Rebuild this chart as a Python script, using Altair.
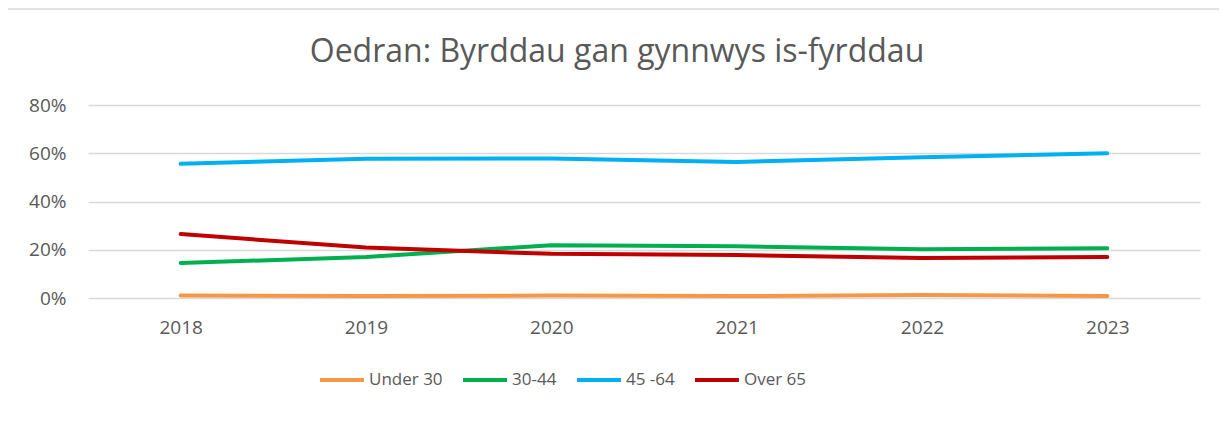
import altair as alt
import pandas as pd

years = ["2018", "2019", "2020", "2021", "2022", "2023"]
series = ["Under 30", "30-44", "45 -64", "Over 65"]
under_30 = [0.010, 0.008, 0.010, 0.008, 0.012, 0.008]
age_30_44 = [0.145, 0.170, 0.219, 0.214, 0.202, 0.206]
age_45_64 = [0.556, 0.577, 0.578, 0.564, 0.583, 0.600]
over_65 = [0.265, 0.209, 0.183, 0.178, 0.166, 0.170]
colors = ["#F79646", "#00B050", "#00B0F0", "#C00000"]

rows = []
for name, vals in zip(series, [under_30, age_30_44, age_45_64, over_65]):
    for y, v in zip(years, vals):
        rows.append({"Year": y, "Series": name, "Value": v})
df = pd.DataFrame(rows)

FONT = "Open Sans"
GRAY = "#595959"
LS = 19

lines = alt.Chart(df).mark_line(strokeWidth=4, strokeCap="round", strokeJoin="round").encode(
    x=alt.X("Year:O", sort=years, scale=alt.Scale(type="point", padding=0.5),
            axis=alt.Axis(title=None, labelAngle=0, ticks=False, domain=False, grid=False,
                          labelPadding=20, labelFontSize=LS, labelColor=GRAY, labelFont=FONT)),
    y=alt.Y("Value:Q", scale=alt.Scale(domain=[0, 0.8]),
            axis=alt.Axis(title=None, format=".0%", values=[0, 0.2, 0.4, 0.6, 0.8], ticks=False,
                          domain=False, gridColor="#D9D9D9", gridWidth=1.5, labelPadding=22,
                          labelFontSize=LS, labelColor=GRAY, labelFont=FONT)),
    color=alt.Color("Series:N", sort=series, scale=alt.Scale(domain=series, range=colors),
                    legend=alt.Legend(title=None, orient="none", legendX=230, legendY=251,
                                      direction="horizontal", symbolType="stroke",
                                      symbolSize=1936, symbolStrokeWidth=4,
                                      labelFontSize=17, labelColor=GRAY, labelFont=FONT,
                                      labelOffset=3, columnPadding=12)),
    detail="Series:N",
)

border = alt.Chart(pd.DataFrame({"a": [0]})).mark_rect(
    fill=None, stroke="#D9D9D9", strokeWidth=1.5
).encode(x=alt.value(-82), x2=alt.value(1135), y=alt.value(-96), y2=alt.value(315))

chart = alt.layer(border, lines).properties(
    width=1112, height=193,
    title=alt.TitleParams("Oedran: Byrddau gan gynnwys is-fyrddau", fontSize=32, font=FONT,
                          color=GRAY, fontWeight="normal", anchor="middle", offset=-61, dx=-27),
    autosize=alt.AutoSizeParams(type="none"),
    padding={"left": 80, "top": 97, "right": 19, "bottom": 115},
).configure(background="white", view=alt.ViewConfig(stroke=None))

chart.save("out.html", embed_options={"renderer": "svg", "actions": False})
